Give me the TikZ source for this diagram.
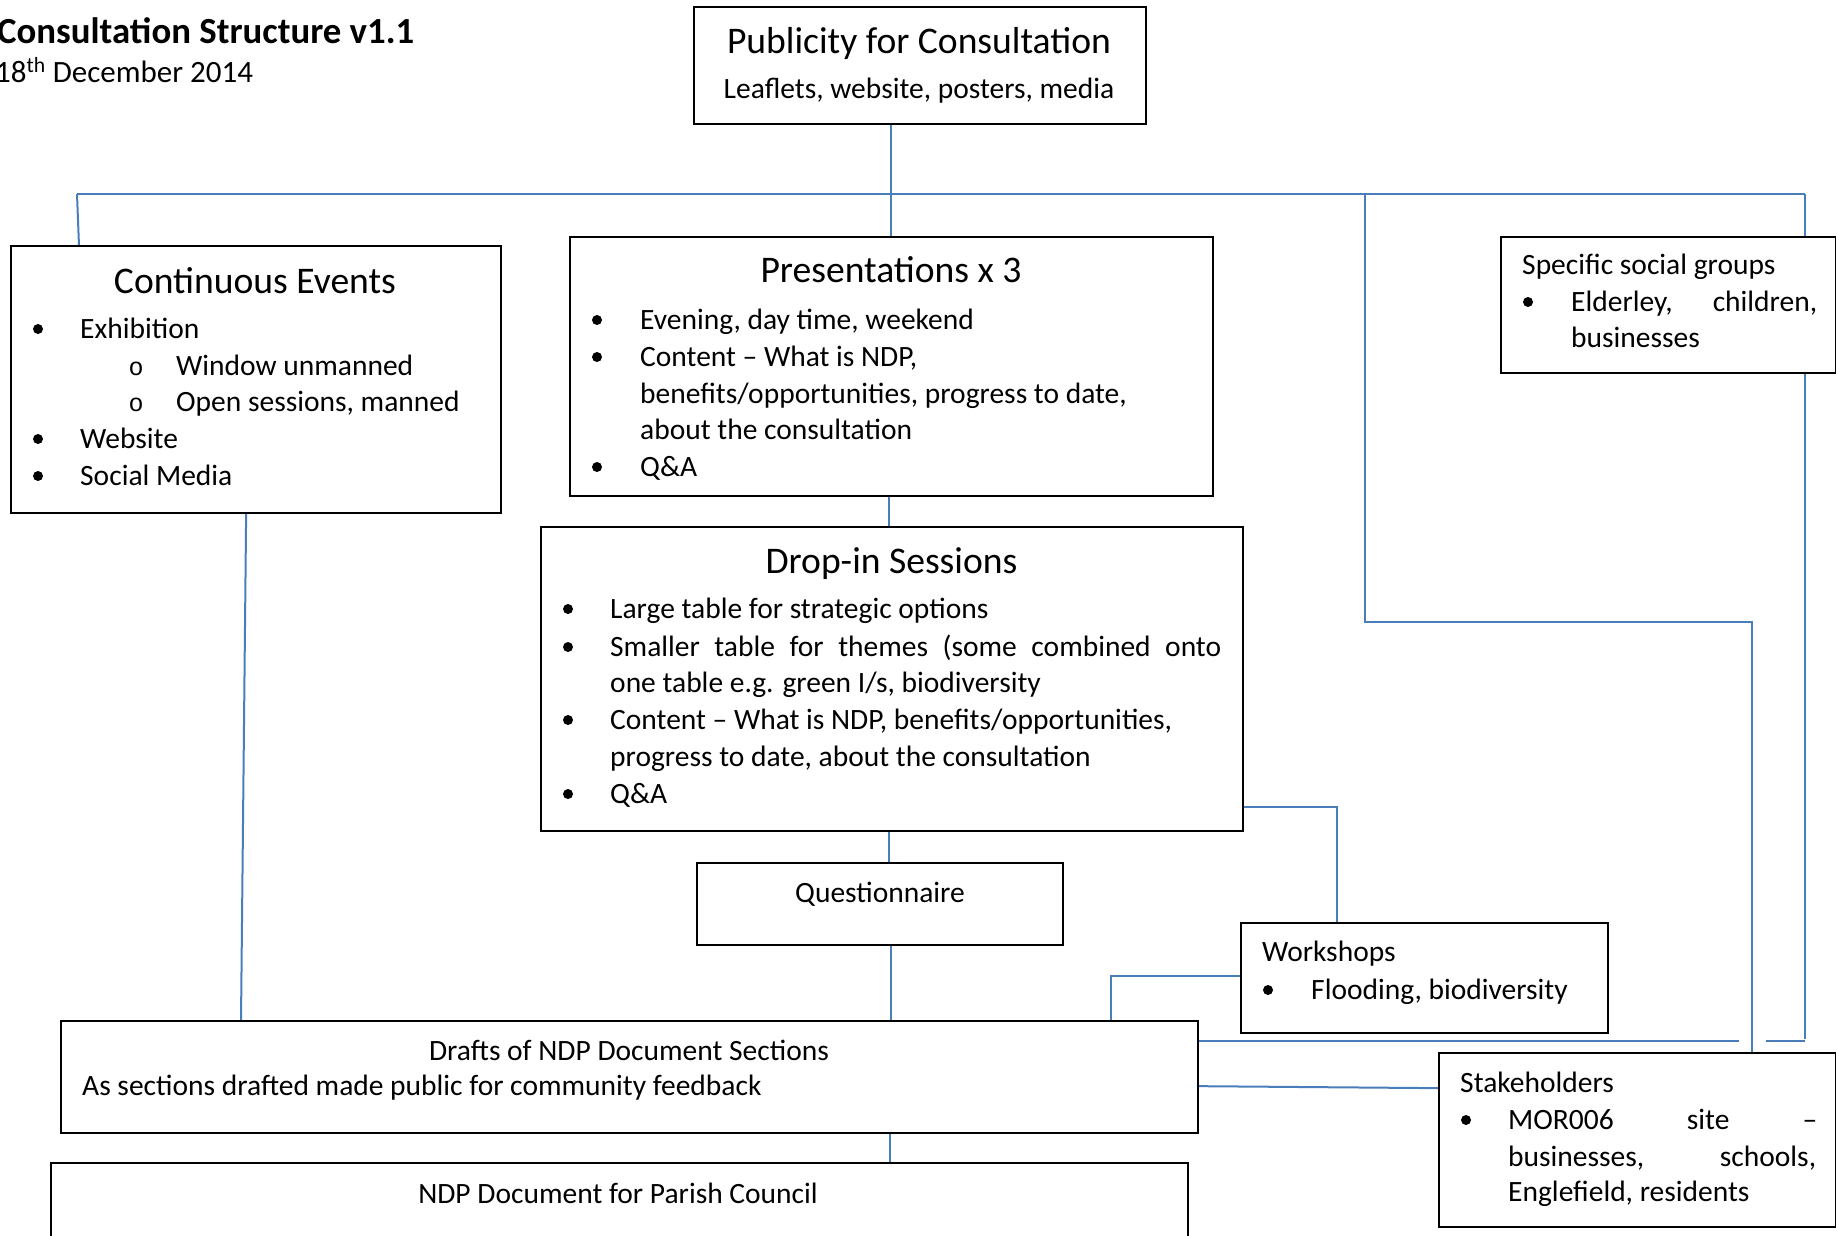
\documentclass[tikz,border=0pt]{standalone}
\usepackage{fontspec}
\setmainfont{Carlito}
\newfontfamily\cournew{Liberation Mono}
\definecolor{linkblue}{HTML}{4A7EBB}
\tikzset{
  box/.style={draw=black, line width=2.3pt, fill=white, inner sep=0pt, anchor=north west, rectangle},
  conn/.style={draw=linkblue, line width=2pt},
  body/.style={anchor=base west, inner sep=0pt, font=\fontsize{29.5}{35}\selectfont},
  bodyc/.style={anchor=base, inner sep=0pt, font=\fontsize{29.5}{35}\selectfont},
  ttl/.style={anchor=base, inner sep=0pt, font=\fontsize{37.6}{44}\selectfont},
  ttlw/.style={anchor=base west, inner sep=0pt, font=\fontsize{29.5}{35}\selectfont},
  bul/.style={fill=black, circle, inner sep=0pt, minimum size=10pt},
  subbul/.style={anchor=base, inner sep=0pt, font=\cournew\fontsize{25}{30}\selectfont},
}
\begin{document}
\begin{tikzpicture}[x=1pt, y=-1pt]
\useasboundingbox (0,0) rectangle (1836,1235);
\fill[white] (0,0) rectangle (1836,1235);
\clip (0,0) rectangle (1836,1235);

% ---------- box geometry (named nodes) ----------
\path
  (694,7)    node[box, draw=none, fill=none, minimum width=450pt, minimum height=115pt] (pub) {}
  (11,246)   node[box, draw=none, fill=none, minimum width=488pt, minimum height=265pt] (cont) {}
  (570,237)  node[box, draw=none, fill=none, minimum width=641pt, minimum height=257pt] (pres) {}
  (1501,237) node[box, draw=none, fill=none, minimum width=333pt, minimum height=134pt] (spec) {}
  (541,527)  node[box, draw=none, fill=none, minimum width=700pt, minimum height=302pt] (drop) {}
  (697,863)  node[box, draw=none, fill=none, minimum width=364pt, minimum height=80pt] (quest) {}
  (1241,923) node[box, draw=none, fill=none, minimum width=365pt, minimum height=108pt] (work) {}
  (61,1021)  node[box, draw=none, fill=none, minimum width=1135pt, minimum height=110pt] (drafts) {}
  (1439,1053) node[box, draw=none, fill=none, minimum width=395pt, minimum height=172pt] (stake) {}
  (51,1163)  node[box, draw=none, fill=none, minimum width=1135pt, minimum height=100pt] (ndp) {};

% ---------- connectors ----------
\coordinate (tl) at (77,194);
\coordinate (tr) at (1805,194);
\coordinate (t3) at (1365,194);
\draw[conn] (tl) -- (tr);
\draw[conn] ([xshift=-29pt]pub.south) -- ([xshift=-29pt]pub.south |- pres.north);
\draw[conn] (tl) -- ([xshift=68pt]cont.north west);
\draw[conn] (t3) -- (1365,622) -| ([xshift=114.5pt]stake.north);
\draw[conn] (tr) -- (1805,1039);
\draw[conn] (1805,1041) -- (1766,1041);
\draw[conn] (1739,1041) -- ([yshift=-20pt]drafts.north east);
\draw[conn] ([xshift=-2.5pt]pres.south) -- ([xshift=-3pt]drop.north);
\draw[conn] ([xshift=-3pt]drop.south) -- ([xshift=9pt]quest.north);
\draw[conn] ([xshift=11pt]quest.south) -- ([xshift=261.5pt]drafts.north);
\draw[conn] ([xshift=260.5pt]drafts.south) -- ([xshift=270.5pt]ndp.north);
\draw[conn] ([yshift=24pt]drop.south east) -| ([xshift=-87.5pt]work.north);
\draw[conn] ([yshift=2pt]work.west) -| ([xshift=-87pt]drafts.north east);
\draw[conn] ([yshift=-9pt]drafts.east) -- ([yshift=52pt]stake.west);
\draw[conn] ([xshift=-10pt]cont.south) -- ([xshift=180pt]drafts.north west);

% ---------- visible boxes ----------
\foreach \n in {pub,cont,pres,spec,drop,quest,work,drafts,stake,ndp}
  \draw[black, line width=2.2pt, fill=white] (\n.north west) rectangle (\n.south east);

% ---------- heading ----------
\node[anchor=base west, inner sep=0pt, font=\bfseries\fontsize{36.8}{42}\selectfont] (head) at (-3,43) {Consultation Structure v1.1};
\node[anchor=base west, inner sep=0pt, font=\fontsize{31}{37}\selectfont] (date) at (-5,82) {18\textsuperscript{th} December 2014};

% ---------- publicity ----------
\node[ttl] (pubt) at (919,53) {Publicity for Consultation};
\node[bodyc] (pubs) at (919,98) {Leaflets, website, posters, media};

% ---------- continuous events ----------
\node[ttl] (contt) at (255,293) {Continuous Events};
\node[bul] (cb1) at (38,329) {};
\node[body] (c1) at (80,338) {Exhibition};
\node[subbul] (cs1) at (136,375) {o};
\node[body] (c2) at (176,375) {Window unmanned};
\node[subbul] (cs2) at (136,411) {o};
\node[body] (c3) at (176,411) {Open sessions, manned};
\node[bul] (cb2) at (38,439) {};
\node[body] (c4) at (80,448) {Website};
\node[bul] (cb3) at (38,476) {};
\node[body] (c5) at (80,485) {Social Media};

% ---------- presentations ----------
\node[ttl] (prest) at (891,282) {Presentations x 3};
\node[bul] (pb1) at (597,320) {};
\node[body] (p1) at (640,329) {Evening, day time, weekend};
\node[bul] (pb2) at (597,357) {};
\node[body] (p2) at (640,366) {Content – What is NDP,};
\node[body] (p3) at (640,403) {benefits/opportunities, progress to date,};
\node[body] (p4) at (640,439) {about the consultation};
\node[bul] (pb3) at (597,467) {};
\node[body] (p5) at (640,476) {Q\&A};

% ---------- specific social groups ----------
\node[ttlw] (spect) at (1522,274) {Specific social groups};
\node[bul] (sb1) at (1528,302) {};
\node[body] (s1) at (1571,311) {\makebox[246pt][s]{Elderley, children,}};
\node[body] (s2) at (1571,347) {businesses};

% ---------- drop-in ----------
\node[ttl] (dropt) at (891.5,573) {Drop-in Sessions};
\node[bul] (db1) at (568,609) {};
\node[body] (d1) at (610,618) {Large table for strategic options};
\node[bul] (db2) at (568,647) {};
\node[body] (d2) at (610,656) {\makebox[611pt][s]{Smaller table for themes (some combined onto}};
\node[body] (d3) at (610,692) {one table e.g. green I/s, biodiversity};
\node[bul] (db3) at (568,720) {};
\node[body] (d4) at (610,729) {Content – What is NDP, benefits/opportunities,};
\node[body] (d5) at (610,766) {progress to date, about the consultation};
\node[bul] (db4) at (568,794) {};
\node[body] (d6) at (610,803) {Q\&A};

% ---------- questionnaire ----------
\node[bodyc] (qt) at (880,902) {Questionnaire};

% ---------- workshops ----------
\node[ttlw] (workt) at (1262,961) {Workshops};
\node[bul] (wb1) at (1268,990) {};
\node[body] (w1) at (1311,999) {Flooding, biodiversity};

% ---------- drafts ----------
\node[bodyc] (draftt) at (629,1060) {Drafts of NDP Document Sections};
\node[body] (drafts1) at (82,1095) {As sections drafted made public for community feedback};

% ---------- stakeholders ----------
\node[ttlw] (staket) at (1460,1092) {Stakeholders};
\node[bul] (stb1) at (1466,1120) {};
\node[body] (st1) at (1508,1129) {\makebox[309pt][s]{MOR006 site –}};
\node[body] (st2) at (1508,1166) {\makebox[308pt][s]{businesses, schools,}};
\node[body] (st3) at (1508,1201) {Englefield, residents};

% ---------- NDP ----------
\node[bodyc] (ndpt) at (618,1203) {NDP Document for Parish Council};
\end{tikzpicture}
\end{document}
